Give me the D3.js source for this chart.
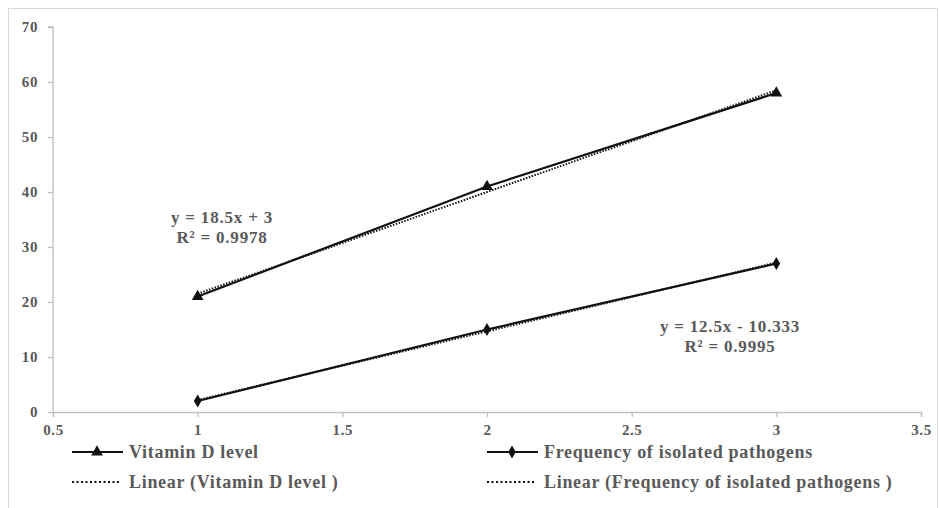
<!DOCTYPE html>
<html>
<head>
<meta charset="utf-8">
<script src="https://cdn.jsdelivr.net/npm/d3@7"></script>
<style>
  body { margin: 0; background: #fff; }
  text { font-family: "Liberation Serif", "Times New Roman", serif; font-weight: bold; fill: #595959; }
</style>
</head>
<body>
<svg id="chart"></svg>
<script>
var xValues = [1, 2, 3];
var vitaminD = [21, 41, 58];
var pathogens = [2, 15, 27];
var xTicks = [0.5, 1, 1.5, 2, 2.5, 3, 3.5];
var yTicks = [0, 10, 20, 30, 40, 50, 60, 70];
var seriesNames = ["Vitamin D level", "Frequency of isolated pathogens"];
var trendNames = ["Linear (Vitamin D level )", "Linear (Frequency of isolated pathogens )"];
var equations = [["y = 18.5x + 3", "R\u00b2 = 0.9978"], ["y = 12.5x - 10.333", "R\u00b2 = 0.9995"]];

var width = 940, height = 508;
var margin = {left: 53, right: 19, top: 27, bottom: 96};

var svg = d3.select("#chart").attr("width", width).attr("height", height);

// outer frame
svg.append("rect")
  .attr("x", 8.5).attr("y", 8.5)
  .attr("width", 929).attr("height", 510)
  .attr("fill", "none").attr("stroke", "#d9d9d9");

var x = d3.scaleLinear().domain([0.5, 3.5]).range([margin.left, width - margin.right]);
var y = d3.scaleLinear().domain([0, 70]).range([height - margin.bottom, margin.top]);

// axes
var xAxis = svg.append("g")
  .attr("transform", "translate(0," + y(0) + ")")
  .call(d3.axisBottom(x).tickValues(xTicks).tickSize(5).tickPadding(7).tickFormat(d3.format("")));
var yAxis = svg.append("g")
  .attr("transform", "translate(" + x(0.5) + ",0)")
  .call(d3.axisLeft(y).tickValues(yTicks).tickSize(5).tickPadding(10));
[xAxis, yAxis].forEach(function(g) {
  g.attr("font-family", null);
  g.selectAll("path, line").attr("stroke", "#bfbfbf").attr("stroke-width", 1.3);
  g.selectAll("text")
    .attr("fill", "#595959")
    .style("font-size", "15px")
    .style("font-weight", "bold")
    .style("letter-spacing", "0.6px");
});
yAxis.select(".domain").attr("d", "M-5," + y(70) + "H0V" + y(0));

// least squares fit
function fit(ys) {
  var mx = d3.mean(xValues), my = d3.mean(ys);
  var num = d3.sum(xValues, function(v, i) { return (v - mx) * (ys[i] - my); });
  var den = d3.sum(xValues, function(v) { return (v - mx) * (v - mx); });
  var b = num / den;
  return {slope: b, intercept: my - b * mx};
}

var series = [vitaminD, pathogens];
var symbols = [d3.symbolTriangle, d3.symbolDiamond];
var symbolSize = [60, 50];
var line = d3.line()
  .x(function(d, i) { return x(xValues[i]); })
  .y(function(d) { return y(d); });

series.forEach(function(ys, k) {
  var f = fit(ys);
  var x0 = xValues[0], x1 = xValues[xValues.length - 1];
  svg.append("path")
    .attr("d", line(ys))
    .attr("fill", "none").attr("stroke", "#111").attr("stroke-width", 2.2);
  svg.append("line")
    .attr("x1", x(x0)).attr("y1", y(f.intercept + f.slope * x0))
    .attr("x2", x(x1)).attr("y2", y(f.intercept + f.slope * x1))
    .attr("stroke", "#111").attr("stroke-width", 2).attr("stroke-dasharray", "1.5,1.5");
  svg.append("g").selectAll("path")
    .data(ys)
    .enter()
    .append("path")
    .attr("transform", function(d, i) { return "translate(" + x(xValues[i]) + "," + y(d) + ")"; })
    .attr("d", d3.symbol().type(symbols[k]).size(symbolSize[k]))
    .attr("fill", "#111");
});

// equation labels
var eqPos = [{x: 222, y: 223}, {x: 730, y: 332}];
equations.forEach(function(lines, k) {
  svg.append("g").selectAll("text")
    .data(lines)
    .enter()
    .append("text")
    .attr("x", eqPos[k].x)
    .attr("y", function(d, i) { return eqPos[k].y + i * 20; })
    .attr("text-anchor", "middle")
    .style("font-size", "17px")
    .style("letter-spacing", "0.8px")
    .text(function(d) { return d; });
});

// legend
var legendX = [72, 487], legendY = [452, 482];
seriesNames.forEach(function(name, k) {
  var g = svg.append("g").attr("transform", "translate(" + legendX[k] + "," + legendY[0] + ")");
  g.append("line").attr("x1", 0).attr("x2", 51).attr("y1", 0).attr("y2", 0)
    .attr("stroke", "#111").attr("stroke-width", 2.2);
  g.append("path").attr("transform", "translate(25,0)")
    .attr("d", d3.symbol().type(symbols[k]).size(symbolSize[k])).attr("fill", "#111");
  g.append("text").attr("x", 57).attr("y", 6).style("font-size", "18px")
    .style("letter-spacing", "0.7px").text(name);
});
trendNames.forEach(function(name, k) {
  var g = svg.append("g").attr("transform", "translate(" + legendX[k] + "," + legendY[1] + ")");
  g.append("line").attr("x1", 0).attr("x2", 47).attr("y1", 0).attr("y2", 0)
    .attr("stroke", "#111").attr("stroke-width", 2).attr("stroke-dasharray", "2,2.5");
  g.append("text").attr("x", 57).attr("y", 6).style("font-size", "18px")
    .style("letter-spacing", "0.7px").text(name);
});
</script>
</body>
</html>
